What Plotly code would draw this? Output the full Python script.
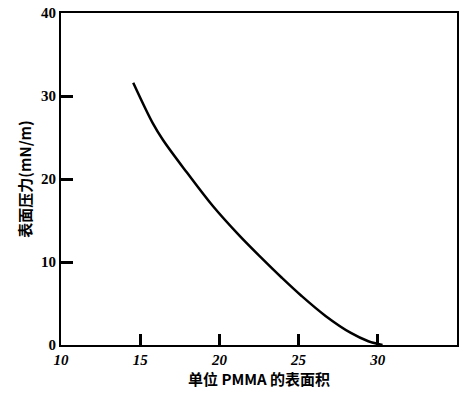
import plotly.graph_objects as go

area = [14.56, 15.8, 16.44, 17.94, 19.56, 21.25, 22.7, 23.94, 25.19, 26.7, 28.3, 29.4, 30.3]
pressure = [31.6, 26.7, 24.7, 20.8, 16.8, 13.2, 10.4, 8.1, 5.9, 3.5, 1.45, 0.45, 0.0]
x_ticks = [10, 15, 20, 25, 30, 35]
y_ticks = [0, 10, 20, 30, 40]
x_range = [10, 35]
y_range = [0, 40]

fig = go.Figure()
fig.add_trace(go.Scatter(x=area, y=pressure, mode="lines",
                         line=dict(color="black", width=2.5, shape="spline", smoothing=1.0),
                         showlegend=False, hoverinfo="skip"))

tick_only = dict(ticks="outside", tickcolor="black", tickwidth=2.5, showticklabels=False,
                 showline=False, showgrid=False, zeroline=False, anchor="free")

fig.update_layout(
    width=462, height=397,
    margin=dict(l=61, r=3, t=13, b=52),
    paper_bgcolor="white", plot_bgcolor="white",
    xaxis=dict(range=x_range, tickmode="array", tickvals=x_ticks, ticks="inside",
               ticklen=11, tickwidth=2.5, tickcolor="black",
               showline=True, linecolor="black", linewidth=2, mirror=True,
               showgrid=False, zeroline=False,
               tickfont=dict(family="Liberation Serif", size=15, color="black", weight="bold", style="italic"),
               title=dict(text="单位 PMMA 的表面积", standoff=4,
                          font=dict(family="Noto Sans CJK SC", size=15, color="black", weight="bold"))),
    yaxis=dict(range=y_range, tickmode="array", tickvals=y_ticks, ticks="inside",
               ticklen=12, tickwidth=2.5, tickcolor="black",
               showline=True, linecolor="black", linewidth=2, mirror=True,
               showgrid=False, zeroline=False,
               tickfont=dict(family="Liberation Serif", size=15, color="black", weight="bold"),
               title=dict(text="表面压力(mN/m)", standoff=6,
                          font=dict(family="Noto Sans CJK SC", size=15, color="black", weight="bold"))),
    xaxis2=dict(overlaying="x", side="top", position=0, range=x_range, tickmode="array",
                tickvals=x_ticks, ticklen=11, **tick_only),
    xaxis3=dict(overlaying="x", side="bottom", position=1, range=x_range, tickmode="array",
                tickvals=x_ticks, ticklen=11, **tick_only),
    yaxis2=dict(overlaying="y", side="right", position=0, range=y_range, tickmode="array",
                tickvals=y_ticks, ticklen=12, **tick_only),
    yaxis3=dict(overlaying="y", side="left", position=1, range=y_range, tickmode="array",
                tickvals=y_ticks, ticklen=12, **tick_only),
)

fig.write_html("out.html", config={"displayModeBar": False},
               post_script="document.body.style.margin='0';")
